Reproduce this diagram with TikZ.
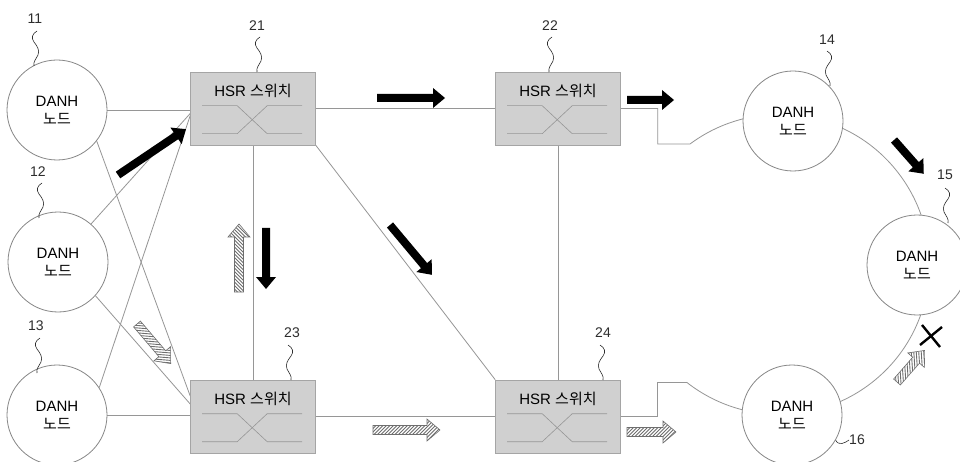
\documentclass[tikz,border=0pt]{standalone}
\usepackage{fontspec}
\setmainfont{Liberation Sans}
\newfontfamily\krfont{Noto Sans CJK KR}
\usetikzlibrary{calc}
\pgfdeclarelayer{bg}
\pgfsetlayers{bg,main}

\definecolor{linkgray}{RGB}{150,150,150}
\definecolor{rimgray}{RGB}{135,135,135}
\definecolor{boxfill}{RGB}{208,208,208}
\definecolor{boxrim}{RGB}{165,165,165}
\definecolor{labelgray}{RGB}{45,45,45}
\definecolor{hatchgray}{RGB}{110,110,110}

\tikzset{
  link/.style={draw=linkgray, line width=0.8pt},
  danh/.style={circle, draw=rimgray, line width=0.8pt, fill=white,
    minimum size=100pt, inner sep=0pt, align=center,
    font=\fontsize{15}{18}\selectfont},
  hsrbox/.style={draw=boxrim, line width=0.6pt, fill=boxfill,
    minimum width=125pt, minimum height=73pt, inner sep=0pt},
  hsrtext/.style={font=\fontsize{15}{18}\selectfont, inner sep=0pt},
  refnum/.style={font=\fontsize{14}{16}\selectfont, text=labelgray, inner sep=0pt},
  leader/.style={draw=labelgray, line width=0.6pt},
  hatchoutline/.style={draw=hatchgray, line width=0.6pt},
  hatchline/.style={draw=hatchgray, line width=0.9pt},
  xmark/.style={draw=black, line width=2.4pt},
}

% solid block arrow: tail x, tail y, direction angle, length
\newcommand\solidflow[4]{%
  \fill[black, shift={(#1,#2)}, rotate=#3]
    (0,-4) -- (#4-12,-4) -- (#4-12,-10) -- (#4,0) -- (#4-12,10) -- (#4-12,4) -- (0,4) -- cycle;}

% hatched block arrow: tail x, tail y, direction angle, length
\newcommand\hatchflow[4]{%
  \begin{scope}[shift={(#1,#2)}, rotate=#3]
    \begin{scope}
      \clip (0,-4.5) -- (#4-13,-4.5) -- (#4-13,-11) -- (#4,0) -- (#4-13,11) -- (#4-13,4.5) -- (0,4.5) -- cycle;
      \fill[white] (-1,-12) rectangle (#4+1,12);
      \foreach \hx in {-24,-20.5,...,#4}{\draw[hatchline] (\hx,-12) -- ++(24,24);}
    \end{scope}
    \draw[hatchoutline] (0,-4.5) -- (#4-13,-4.5) -- (#4-13,-11) -- (#4,0) -- (#4-13,11) -- (#4-13,4.5) -- (0,4.5) -- cycle;
  \end{scope}}

% wavy leader line for a reference number: top x, top y, mirror (1 or -1)
\newcommand\leadwave[3]{%
  \draw[leader, shift={(#1,#2)}, xscale=#3]
    (0,0) .. controls (-5,-3) and (-6,-7) .. (-3,-11)
          .. controls (0,-15) and (3,-19) .. (1,-24)
          .. controls (-1,-28) and (-4,-31) .. (-3,-35);}

% HSR switch box with its crossing paths: name, centre x, centre y
\newcommand\hsrswitch[3]{%
  \node[hsrbox] (#1) at (#2,#3) {};
  \node[hsrtext] at ($(#1.north)+(0,-19)$) {HSR {\krfont 스위치}};
  \draw[link, line width=0.6pt] ($(#1.north west)+(12,-34)$) -- ++(35,0) -- ++(30,-28) -- ++(35,0);
  \draw[link, line width=0.6pt] ($(#1.north west)+(12,-62)$) -- ++(35,0) -- ++(30,28) -- ++(35,0);
}

\begin{document}
\begin{tikzpicture}[x=1pt, y=1pt]
\useasboundingbox (0,0) rectangle (960,-462);
\begin{pgfonlayer}{bg}
  \fill[white] (0,0) rectangle (960,-462);
\end{pgfonlayer}

% DANH nodes
\node[danh] (n11) at (57,-110) {DANH\\{\krfont 노드}};
\node[danh] (n12) at (58,-262) {DANH\\{\krfont 노드}};
\node[danh] (n13) at (57,-415) {DANH\\{\krfont 노드}};
\node[danh] (n14) at (793,-121) {DANH\\{\krfont 노드}};
\node[danh] (n15) at (917,-265) {DANH\\{\krfont 노드}};
\node[danh] (n16) at (792,-415) {DANH\\{\krfont 노드}};

% HSR switches
\hsrswitch{s21}{253}{-108.5}
\hsrswitch{s22}{558}{-108.5}
\hsrswitch{s23}{253}{-416.5}
\hsrswitch{s24}{558}{-416.5}

% links
\begin{pgfonlayer}{bg}
  \draw[link] (n11.east) -- (s21.west |- n11.east);
  \draw[link] (n12.49) -- ([yshift=-5pt]s21.west);
  \draw[link] (n13.33) -- ([yshift=-7pt]s21.west);
  \draw[link] (n11.-38) -- ([yshift=20.5pt]s23.west);
  \draw[link] (n12.-42) -- ([yshift=12.5pt]s23.west);
  \draw[link] (n13.east) -- (s23.west |- n13.east);
  \draw[link] (s21.east) -- (s22.west);
  \draw[link] (s21.south) -- (s23.north);
  \draw[link] (s21.south east) -- (s24.north west);
  \draw[link] (s22.south) -- (s24.north);
  \draw[link] (s23.east) -- (s24.west);
  % ring through nodes 14, 15 and 16
  \coordinate (ringtop) at (690,-144);
  \draw[link] (s22.east) -- ++(37,0) |- (ringtop)
    arc[start angle=126.6, end angle=-128.2, radius=150pt] coordinate (ringbot);
  \draw[link] (s24.east) -- ++(37,0) |- (ringbot);
\end{pgfonlayer}

% reference numbers
\node[refnum] (l11) at (35,-19) {11};
\node[refnum] (l12) at (38,-172) {12};
\node[refnum] (l13) at (36,-326) {13};
\node[refnum] (l21) at (257,-26) {21};
\node[refnum] (l22) at (550,-26) {22};
\node[refnum] (l23) at (292,-333) {23};
\node[refnum] (l24) at (603,-333) {24};
\node[refnum] (l14) at (827,-40) {14};
\node[refnum] (l15) at (945,-175) {15};
\node[refnum] (l16) at (857,-440) {16};

\leadwave{37}{-31}{1}
\leadwave{42}{-183}{1}
\leadwave{40}{-338}{1}
\leadwave{260}{-37}{1}
\leadwave{552}{-37}{1}
\leadwave{288}{-345}{-1}
\leadwave{600}{-345}{-1}
\leadwave{827}{-51}{-1}
\leadwave{945}{-188}{-1}
\draw[leader] (n16.-30) .. controls +(3,-6) and +(-4,-3) .. (l16.west);

% traffic arrows
\solidflow{377}{-98}{0}{68}
\solidflow{627}{-100}{0}{47}
\solidflow{118}{-175}{34}{82}
\solidflow{266}{-228}{-90}{61}
\solidflow{390}{-225}{-50}{65}
\solidflow{894}{-140}{-48.6}{45}

\hatchflow{239}{-292}{90}{68}
\hatchflow{137}{-324}{-49.6}{52}
\hatchflow{373}{-430}{0}{67}
\hatchflow{627}{-432}{0}{49}
\hatchflow{897}{-382}{48.8}{42}

% broken link mark
\draw[xmark] (922,-325) -- (940,-347);
\draw[xmark] (942,-327) -- (920,-345);
\end{tikzpicture}
\end{document}
